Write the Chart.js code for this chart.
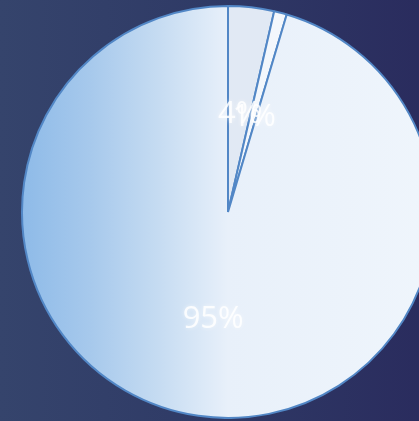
<!DOCTYPE html>
<html>
<head>
<meta charset="utf-8">
<script src="https://cdn.jsdelivr.net/npm/chart.js@4.4.0/dist/chart.umd.min.js"></script>
<style>
  html, body { margin: 0; padding: 0; width: 419px; height: 421px; overflow: hidden; }
  body { background: linear-gradient(90deg, #35446c 0%, #2f3a66 50%, #2a2c5e 100%); }
  .chart-container { position: absolute; left: 0; top: 5px; width: 456px; height: 414px; }
</style>
</head>
<body>
<div class="chart-container"><canvas id="myChart"></canvas></div>
<script>
(function () {
    // data
    const labels = ['A', 'B', 'C'];
    const values = [3.6, 1.0, 95.4];
    const sliceColors = ['#e1e9f4', '#f3f7fc', null]; // null -> gradient

    let pieGradient = function (chart) {
        const area = chart.chartArea;
        if (!area) return '#e8f0fa';
        const ctx = chart.ctx;
        const g = ctx.createLinearGradient(area.left, 0, area.right, 0);
        g.addColorStop(0, '#86b6e7');
        g.addColorStop(0.2, '#a7c9ec');
        g.addColorStop(0.35, '#c6dcf2');
        g.addColorStop(0.5, '#e8f0fa');
        g.addColorStop(1, '#f0f6fc');
        return g;
    };

    // percent labels in the middle of each slice
    const pctLabels = {
        id: 'pctLabels',
        afterDatasetsDraw(chart) {
            const ctx = chart.ctx;
            const meta = chart.getDatasetMeta(0);
            const total = values.reduce((a, b) => a + b, 0);
            ctx.save();
            ctx.font = '31px "Open Sans", sans-serif';
            ctx.textAlign = 'center';
            ctx.textBaseline = 'middle';
            ctx.fillStyle = 'rgba(255,255,255,0.85)';
            ctx.shadowColor = 'rgba(255,255,255,0.7)';
            ctx.shadowBlur = 4;
            meta.data.forEach(function (arc, i) {
                const p = arc.tooltipPosition();
                ctx.fillText(Math.round(values[i] / total * 100) + '%', p.x, p.y + 5);
            });
            ctx.restore();
        }
    };

    const ctx = document.getElementById('myChart');
    new Chart(ctx, {
        type: 'pie',
        data: {
            labels: labels,
            datasets: [{
                data: values,
                backgroundColor: function (c) {
                    return sliceColors[c.dataIndex] || pieGradient(c.chart);
                },
                borderColor: '#5287c6',
                borderWidth: 2
            }]
        },
        options: {
            animation: false,
            responsive: true,
            maintainAspectRatio: false,
            layout: { padding: 0 },
            plugins: {
                legend: { display: false },
                tooltip: { enabled: false }
            }
        },
        plugins: [pctLabels]
    });
})();
</script>
</body>
</html>
